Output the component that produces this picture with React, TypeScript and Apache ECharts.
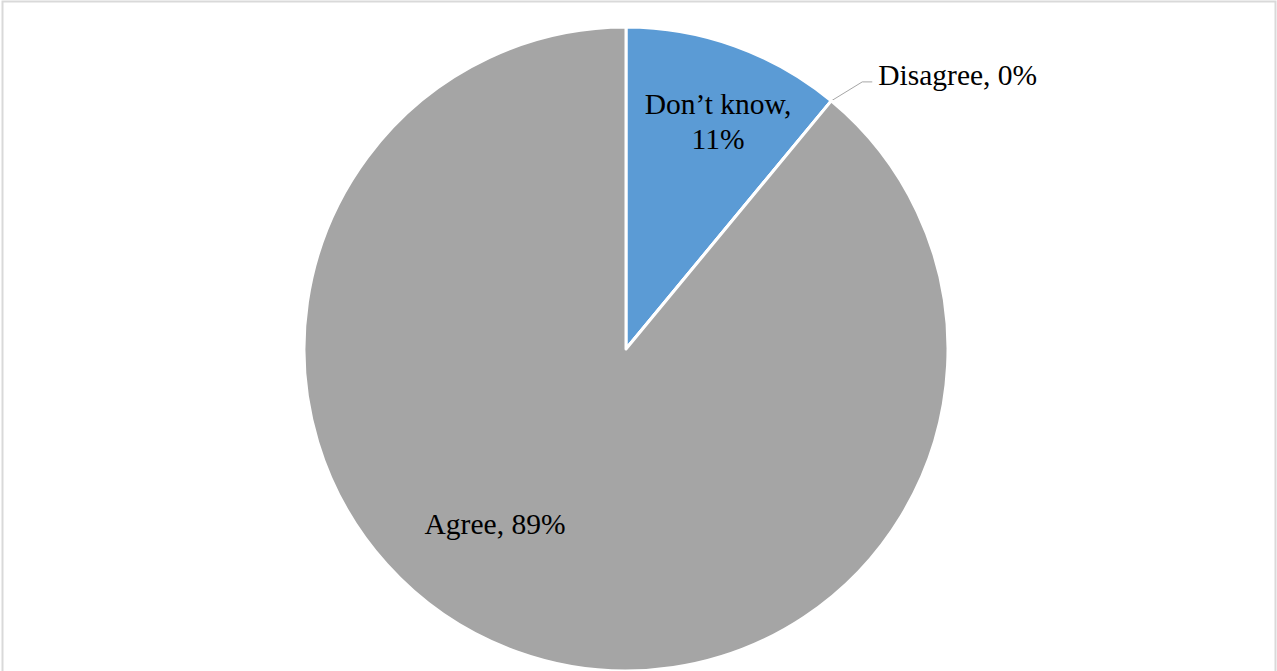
import React, { useEffect, useRef } from "react";
import * as echarts from "echarts";

const categories = ["Don’t know", "Disagree", "Agree"];
const values = [11, 0, 89];
const colors = ["#5b9bd5", "#ed7d31", "#a5a5a5"];

export default function App() {
  const ref = useRef<HTMLDivElement>(null);
  useEffect(() => {
    if (!ref.current) return;
    const chart = echarts.init(ref.current, undefined, { renderer: "svg" });
    const cx = 626;
    const cy = 349;
    const font = '"Liberation Serif", "Times New Roman", serif';
    chart.setOption({
      animation: false,
      backgroundColor: "#ffffff",
      graphic: [
        {
          type: "rect",
          shape: { x: 2.5, y: 1.5, width: 1273, height: 700 },
          style: { fill: "none", stroke: "#d9d9d9", lineWidth: 2 },
          silent: true,
        },
      ],
      series: [
        {
          type: "pie",
          center: [cx, cy],
          radius: [0, 322],
          startAngle: 90,
          clockwise: true,
          avoidLabelOverlap: false,
          stillShowZeroSum: true,
          itemStyle: { borderColor: "#ffffff", borderWidth: 3 },
          label: {
            show: true,
            position: "inside",
            fontFamily: font,
            fontSize: 29.5,
            lineHeight: 35,
            color: "#000000",
            formatter: (p: any) =>
              p.dataIndex === 0 ? `${p.name},\n${p.value}%` : `${p.name}, ${p.value}%`,
          },
          labelLine: { show: false },
          labelLayout: (p: any) => {
            if (p.dataIndex === 0) {
              return { x: 718, y: 121, align: "center", verticalAlign: "middle" };
            }
            if (p.dataIndex === 2) {
              return { x: 495, y: 524, align: "center", verticalAlign: "middle" };
            }
            const pts = p.labelLinePoints;
            if (pts && pts.length) {
              const p0 = pts[0];
              const p1 = [p0[0] + 31, p0[1] - 19];
              const p2 = [p1[0] + 10, p1[1]];
              return {
                x: p2[0] + 6,
                y: p2[1] - 7,
                align: "left",
                verticalAlign: "middle",
                labelLinePoints: [p0, p1, p2],
              };
            }
            return {};
          },
          data: categories.map((name, i) => ({
            name,
            value: values[i],
            itemStyle: { color: colors[i] },
            label:
              i === 1
                ? { position: "outside" }
                : undefined,
            labelLine:
              i === 1
                ? { show: true, length: 30, length2: 10, lineStyle: { color: "#a6a6a6", width: 1 } }
                : undefined,
          })),
        },
      ],
    });
    return () => chart.dispose();
  }, []);
  return (
    <div
      ref={ref}
      style={{ position: "absolute", left: 0, top: 0, width: 1277, height: 671 }}
    />
  );
}
